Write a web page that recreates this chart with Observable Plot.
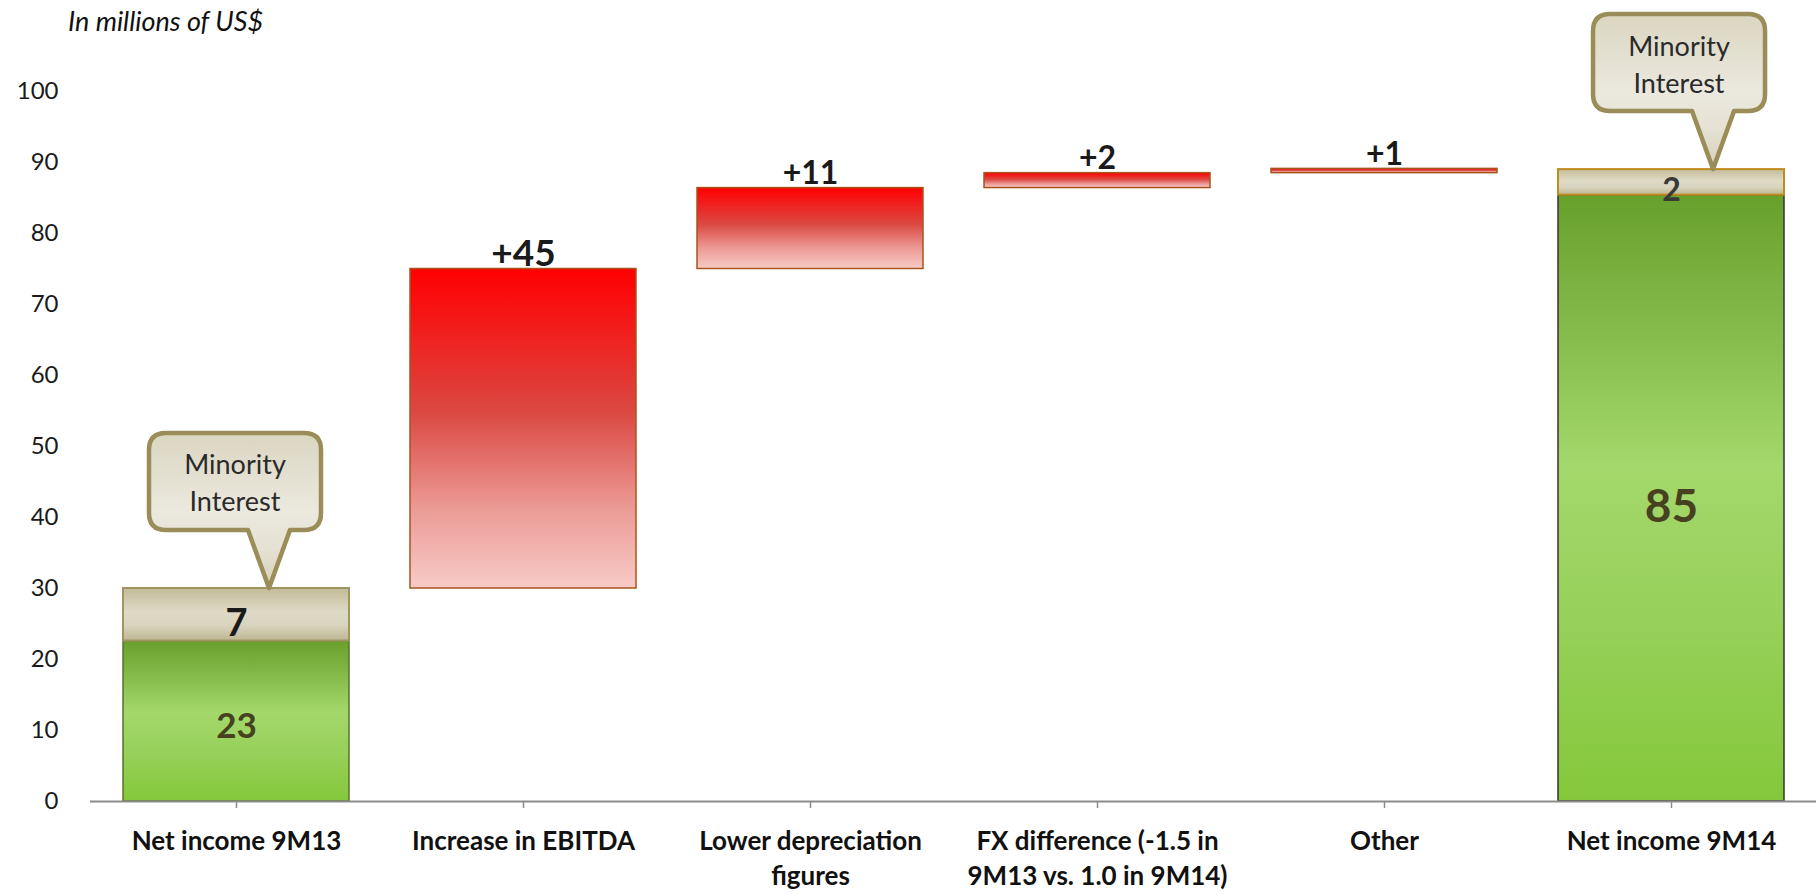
<!DOCTYPE html>
<html><head><meta charset="utf-8">
<script src="https://cdn.jsdelivr.net/npm/d3@7"></script>
<script src="https://cdn.jsdelivr.net/npm/@observablehq/plot@0.6"></script>
<style>
body{margin:0;background:#fff;font-family:Lato, "Open Sans", sans-serif;}
#wrap{position:relative;width:1816px;height:894px;}
#title{position:absolute;left:68px;top:4px;font-style:italic;font-size:27px;color:#111;font-family:Lato, sans-serif;}
</style></head><body>
<div id="wrap"><div id="title">In millions of US$</div></div>
<script>
// ---- data ----
const categories = ["Net income 9M13", "Increase in EBITDA", "Lower depreciation figures",
  "FX difference (-1.5 in 9M13 vs. 1.0 in 9M14)", "Other", "Net income 9M14"];
const tickLabels = ["Net income 9M13", "Increase in EBITDA", "Lower depreciation\nfigures",
  "FX difference (-1.5 in\n9M13 vs. 1.0 in 9M14)", "Other", "Net income 9M14"];
const startNetIncome = 22.6;   // green part, 9M13
const startMinority = 7.4;     // minority interest, 9M13
const startLabels = ["23", "7"];
const steps = [45, 11.4, 2.1, 0.6];
const stepLabels = ["+45", "+11", "+2", "+1"];
const endNetIncome = 85.4;     // green part, 9M14
const endMinority = 3.6;       // minority interest, 9M14
const endLabels = ["85", "2"];
const calloutText = ["Minority", "Interest"];
const yTicks = [0, 10, 20, 30, 40, 50, 60, 70, 80, 90, 100];

// ---- derived tables ----
const startTotal = startNetIncome + startMinority;
let acc = startTotal;
const stepRows = steps.map((v, i) => {
  const row = {cat: categories[i + 1], y1: acc, y2: acc + v, label: stepLabels[i], big: i === 0};
  acc += v;
  return row;
});
const greenRows = [
  {cat: categories[0], y1: 0, y2: startNetIncome, label: startLabels[0]},
  {cat: categories[5], y1: 0, y2: endNetIncome, label: endLabels[0]}
];
const minorityRows = [
  {cat: categories[0], y1: startNetIncome, y2: startTotal, label: startLabels[1]},
  {cat: categories[5], y1: endNetIncome, y2: endNetIncome + endMinority, label: endLabels[1]}
];
const calloutRows = [
  {cat: categories[0], y: startTotal, frac: 0.646},
  {cat: categories[5], y: endNetIncome + endMinority, frac: 0.686}
];

function defs() {
  const g = d3.create("svg:g");
  const d = g.append("defs");
  const grad = (id, stops) => {
    const lg = d.append("linearGradient").attr("id", id).attr("x1", 0).attr("y1", 0).attr("x2", 0).attr("y2", 1);
    stops.forEach(([o, c]) => lg.append("stop").attr("offset", o).attr("stop-color", c));
  };
  grad("gRed", [[0, "#ff0000"], [0.12, "#f71212"], [0.45, "#db4842"], [0.75, "#ec9a95"], [1, "#f7cbc7"]]);
  grad("gGreen", [[0, "#68a02c"], [0.2, "#82b848"], [0.45, "#a4d86c"], [0.7, "#97d05a"], [1, "#84c83a"]]);
  grad("gMin", [[0, "#c3bb98"], [0.45, "#dedac6"], [0.7, "#dad5bf"], [1, "#bfb793"]]);
  grad("gCall", [[0, "#dbd6c1"], [0.5, "#ebe8de"], [0.75, "#e5e1d3"], [1, "#d6d0b9"]]);
  return g.node();
}

function callouts(index, scales) {
  const x = scales.x, y = scales.y;
  const bw = x.bandwidth();
  const g = d3.create("svg:g");
  for (const c of calloutRows) {
    const tx = x(c.cat) + bw * c.frac, ty = y(c.y);
    const L = tx - 120, R = tx + 52, T = ty - 155, B = ty - 58, r = 17;
    const p = `M${L + r},${T}H${R - r}Q${R},${T} ${R},${T + r}V${B - r}Q${R},${B} ${R - r},${B}` +
      `H${tx + 21}L${tx},${ty}L${tx - 21},${B}H${L + r}Q${L},${B} ${L},${B - r}V${T + r}Q${L},${T} ${L + r},${T}Z`;
    g.append("path").attr("d", p).attr("fill", "url(#gCall)").attr("stroke", "#9b8d58")
      .attr("stroke-width", 4.5).attr("stroke-linejoin", "round");
    calloutText.forEach((t, i) => {
      g.append("text").attr("x", (L + R) / 2).attr("y", (T + B) / 2 + 2 + (i - 0.5) * 37)
        .attr("dy", "0.35em").attr("text-anchor", "middle").attr("font-size", 27)
        .attr("fill", "#2a2a2a").attr("font-family", "Lato, sans-serif").text(t);
    });
  }
  return g.node();
}

const chart = Plot.plot({
  width: 1816,
  height: 894,
  marginLeft: 90,
  marginRight: 0,
  marginTop: 91,
  marginBottom: 93,
  style: {fontFamily: "Lato, sans-serif", background: "#fff", overflow: "visible"},
  x: {domain: categories, paddingInner: 0.214, paddingOuter: 0.107, label: null},
  y: {domain: [0, 100], label: null},
  marks: [
    defs,
    Plot.barY(stepRows, {x: "cat", y1: "y1", y2: "y2", fill: "url(#gRed)", stroke: "#a9541c", strokeWidth: 1.5}),
    Plot.barY(greenRows.slice(0, 1), {x: "cat", y1: "y1", y2: "y2", fill: "url(#gGreen)", stroke: "#5c6f30", strokeWidth: 1.5}),
    Plot.barY(greenRows.slice(1), {x: "cat", y1: "y1", y2: "y2", fill: "url(#gGreen)", stroke: "#333", strokeWidth: 1.5}),
    Plot.barY(minorityRows.slice(0, 1), {x: "cat", y1: "y1", y2: "y2", fill: "url(#gMin)", stroke: "#a09560", strokeWidth: 2}),
    Plot.barY(minorityRows.slice(1), {x: "cat", y1: "y1", y2: "y2", fill: "url(#gMin)", stroke: "#c08c20", strokeWidth: 2}),
    Plot.ruleY([0], {stroke: "#8c8c8c", strokeWidth: 2}),
    Plot.axisY({ticks: yTicks, tickSize: 0, tickPadding: 32, fontSize: 24, fill: "#1a1a1a"}),
    Plot.axisX({tickFormat: (d) => tickLabels[categories.indexOf(d)], tickSize: 7, tickPadding: 17,
      fontSize: 26, fontWeight: "bold", lineHeight: 1.34, stroke: "#8c8c8c", strokeWidth: 1.5, fill: "#111"}),
    // step labels
    Plot.text(stepRows.filter(d => d.big), {x: "cat", y: "y2", text: "label", lineAnchor: "bottom", dy: -3,
      fontSize: 37, fontWeight: "bold", fill: "#1a1a1a"}),
    Plot.text(stepRows.filter(d => !d.big), {x: "cat", y: "y2", text: "label", lineAnchor: "bottom", dy: -4,
      fontSize: 32, fontWeight: "bold", fill: "#1a1a1a"}),
    // stack labels
    Plot.text(greenRows.slice(0, 1), {x: "cat", y: d => (d.y1 + d.y2) / 2, text: "label", dy: 6,
      fontSize: 35, fontWeight: "bold", fill: "#47411f"}),
    Plot.text(greenRows.slice(1), {x: "cat", y: d => (d.y1 + d.y2) / 2, text: "label", dy: 9,
      fontSize: 46, fontWeight: "bold", fill: "#47411f"}),
    Plot.text(minorityRows.slice(0, 1), {x: "cat", y: d => (d.y1 + d.y2) / 2, text: "label", dy: 9,
      fontSize: 38, fontWeight: "bold", fill: "#1a1a1a"}),
    Plot.text(minorityRows.slice(1), {x: "cat", y: d => (d.y1 + d.y2) / 2, text: "label", dy: 8,
      fontSize: 32, fontWeight: "bold", fill: "#3a3a3a"}),
    callouts
  ]
});
document.getElementById("wrap").prepend(chart);
</script>
</body></html>
